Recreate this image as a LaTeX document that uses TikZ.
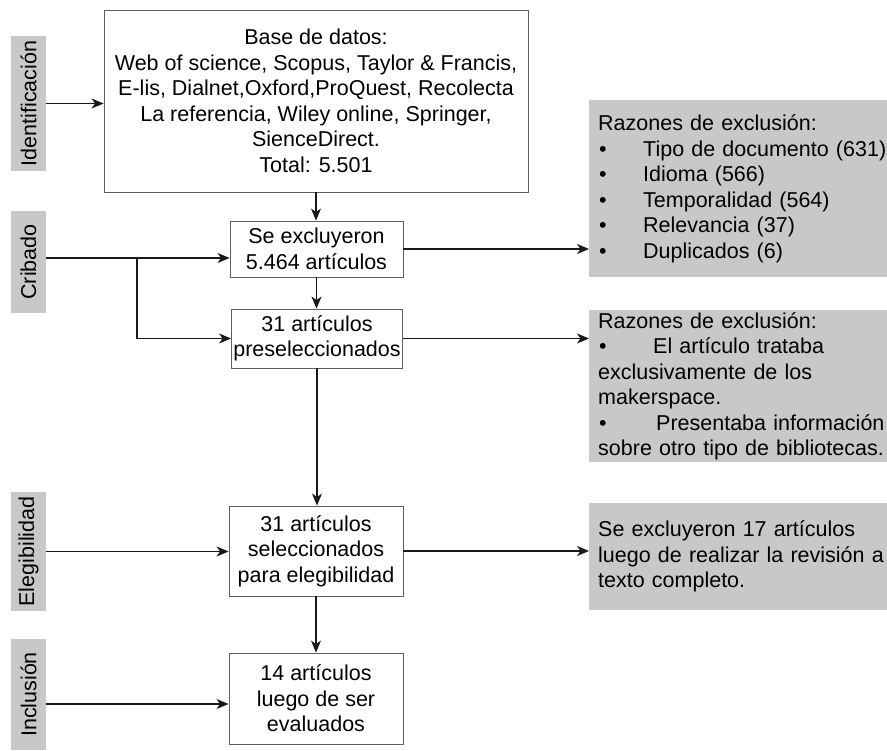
\documentclass[tikz,border=0pt]{standalone}
\usepackage{fontspec}
\setmainfont{Liberation Sans}
\usetikzlibrary{arrows.meta}
\definecolor{lgray}{RGB}{200,200,200}
\definecolor{boxline}{RGB}{95,95,95}
\newcommand\bulitem[2]{\makebox[#1][l]{\hspace{1pt}•}#2}
\begin{document}
\begin{tikzpicture}[x=1pt,y=1pt, font=\fontsize{21.5}{25.5}\selectfont,
  wbox/.style={draw=boxline, line width=0.9pt, fill=white, align=center, inner sep=0pt},
  gbox/.style={fill=lgray, align=left, inner xsep=9pt, inner ysep=2pt, anchor=north west, text width=295pt},
  lab/.style={fill=lgray, rotate=90, minimum height=35pt, inner sep=0pt},
  arr/.style={line width=1.1pt, draw=black!90, -{Stealth[length=12pt,width=10pt,inset=3.5pt]}}]
\useasboundingbox (0,0) rectangle (887,-751);

% stage labels
\node[lab, minimum width=135pt] (idlab) at (28.5,-103.5) {Identificación};
\node[lab, minimum width=102pt] (crlab) at (28.5,-262) {Cribado};
\node[lab, minimum width=119pt] (ellab) at (28.5,-551.5) {Elegibilidad};
\node[lab, minimum width=111pt] (inlab) at (28.5,-694.5) {Inclusión};

% main boxes
\node[wbox, minimum width=424pt, minimum height=182pt] (top) at (316,-101)
  {Base de datos:\\Web of science, Scopus, Taylor \& Francis,\\E-lis, Dialnet,Oxford,ProQuest, Recolecta\\La referencia, Wiley online, Springer,\\SienceDirect.\\Total: 5.501};
\node[wbox, minimum width=173pt, minimum height=56pt] (excl) at (316.5,-249)
  {Se excluyeron\\5.464 artículos};
\node[wbox, minimum width=171pt, minimum height=59pt] (pre) at (317,-338.5)
  {31 artículos\\preseleccionados};
\node[wbox, minimum width=174pt, minimum height=90pt] (eleg) at (316,-551)
  {31 artículos\\seleccionados\\para elegibilidad};
\node[wbox, minimum width=174pt, minimum height=91pt] (inc) at (316,-698.5)
  {14 artículos\\luego de ser\\evaluados};

% exclusion boxes
\node[gbox, minimum height=177pt] (g1) at (589,-100)
  {Razones de exclusión:\\
   \bulitem{45pt}{Tipo de documento (631)}\\
   \bulitem{45pt}{Idioma (566)}\\
   \bulitem{45pt}{Temporalidad (564)}\\
   \bulitem{45pt}{Relevancia (37)}\\
   \bulitem{45pt}{Duplicados (6)}};
\node[gbox, minimum height=150pt] (g2) at (589,-310)
  {Razones de exclusión:\\
   \bulitem{55pt}{El artículo trataba}\\
   exclusivamente de los\\
   makerspace.\\
   \bulitem{58pt}{Presentaba información}\\
   sobre otro tipo de bibliotecas.};
\node[gbox, minimum height=107pt] (g3) at (589,-503)
  {Se excluyeron 17 artículos\\luego de realizar la revisión a\\texto completo.};

% connectors from stage labels
\coordinate (crstart) at (46,-258);
\coordinate (crbranch) at (137,-258);
\coordinate (incstart) at (46,-704);
\draw[arr] (idlab.south) -- (idlab.south -| top.west);
\draw[arr] (crstart) -- (crstart -| excl.west);
\draw[arr] (crbranch) |- (pre.west);
\draw[arr] (ellab.south) -- (ellab.south -| eleg.west);
\draw[arr] (incstart) -- (incstart -| inc.west);

% vertical flow
\draw[arr] (top.south) -- (top.south |- excl.north);
\draw[arr] (excl.south) -- (excl.south |- pre.north);
\draw[arr] (pre.south) -- (pre.south |- eleg.north);
\draw[arr] (eleg.south) -- (eleg.south |- inc.north);

% exclusions
\draw[arr] (excl.east) -- (excl.east -| g1.west);
\draw[arr] (pre.east) -- (pre.east -| g2.west);
\draw[arr] (eleg.east) -- (eleg.east -| g3.west);
\end{tikzpicture}
\end{document}
